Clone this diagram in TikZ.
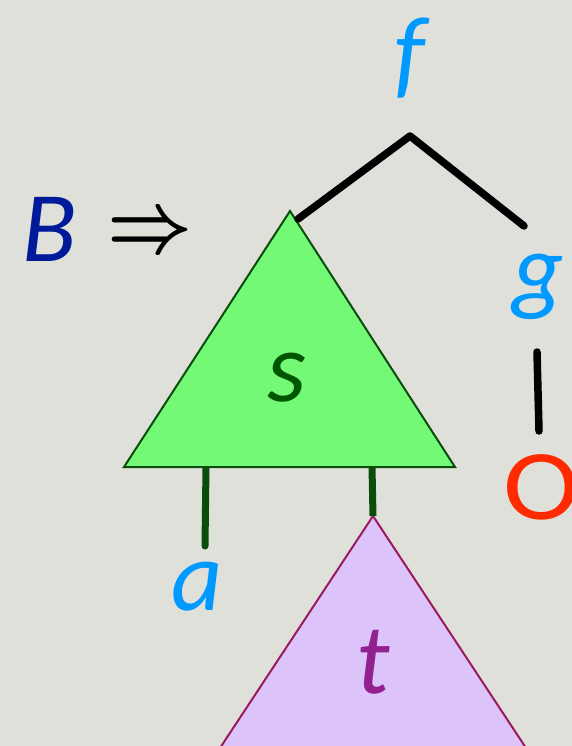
\documentclass[tikz,border=0pt]{standalone}
\usepackage{fontspec}
\setmainfont{Carlito}
\definecolor{bg}{HTML}{DFE0DA}
\definecolor{lblue}{HTML}{0099FF}
\definecolor{navy}{HTML}{001A99}
\definecolor{sgreen}{HTML}{005500}
\definecolor{tpurple}{HTML}{93208F}
\definecolor{ored}{HTML}{FF2A00}
\definecolor{gfill}{HTML}{74F977}
\definecolor{gline}{HTML}{0A4D0A}
\definecolor{pfill}{HTML}{DCC4FB}
\definecolor{pline}{HTML}{9A1A60}
\begin{document}
\begin{tikzpicture}[x=1pt,y=-1pt,
  lbl/.style={inner sep=0pt,anchor=base,font=\fontsize{100}{100}\selectfont\itshape},
  edge/.style={line width=7.5pt,line cap=round},
  gedge/.style={line width=7pt,line cap=round,draw=gline}]
\fill[bg] (0,0) rectangle (572,746);
\useasboundingbox (0,0) rectangle (572,746);
% triangles
\coordinate (sTop) at (290,211);
\coordinate (sL) at (124,467);
\coordinate (sR) at (455,467);
\coordinate (tTop) at (373,516);
\coordinate (tL) at (220,748);
\coordinate (tR) at (526,748);
\filldraw[fill=pfill,draw=pline,line width=2pt,line join=miter] (tTop) -- (tR) -- (tL) -- cycle;
% green connectors
\coordinate (sa) at (206,467);
\coordinate (aEnd) at (205,546);
\coordinate (st) at (372,467);
\draw[gedge] (sa) -- (aEnd);
\draw[gedge,line cap=butt] (st) -- (tTop);
\filldraw[fill=gfill,draw=gline,line width=2pt] (sTop) -- (sR) -- (sL) -- cycle;
% black connectors
\coordinate (fJoin) at (410,136);
\coordinate (sEnd) at (298,219);
\coordinate (gEnd) at (524,226);
\coordinate (g2) at (537,352);
\coordinate (oEnd) at (539,431);
\draw[edge,line join=round] (sEnd) -- (fJoin) -- (gEnd);
\draw[edge] (g2) -- (oEnd);
% labels
\node[lbl,text=lblue] (f) at (410,87) {f};
\node[lbl,text=lblue] (g) at (538,302) {g};
\node[lbl,text=lblue] (a) at (197,610) {a};
\node[lbl,text=navy] (B) at (50,261) {B};
\node[lbl,text=sgreen] (s) at (287,401) {s};
\node[lbl,text=tpurple] (t) at (373,693) {t};
\node[lbl,font=\fontsize{100}{100}\selectfont,text=ored,anchor=base west] (O) at (503,519) {\scalebox{1.15}[1]{O}};
\node[inner sep=0pt] (arr) at (150,235) {\scalebox{7.4}[8.6]{\boldmath$\Rightarrow$}};
\end{tikzpicture}
\end{document}
